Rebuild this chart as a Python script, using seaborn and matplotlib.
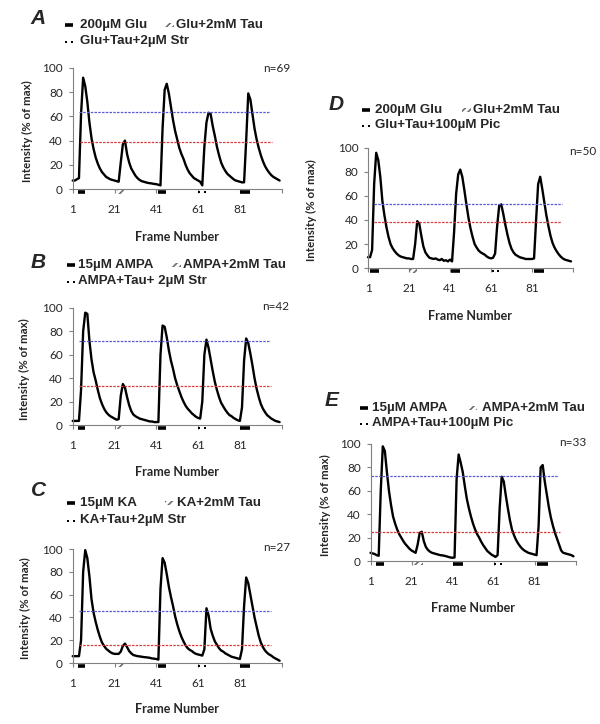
import numpy as np
import matplotlib
matplotlib.use('Agg')
import matplotlib.pyplot as plt
import seaborn as sns
from matplotlib.lines import Line2D
from matplotlib.patches import Rectangle

frames = np.arange(1, 101)

# mean intensity traces (% of max), one value per frame
trace_a = [7, 7, 8, 9, 62, 92, 85, 72, 55, 42,
           33, 26, 21, 17, 14, 12, 10, 9, 8, 7.5,
           7, 6.5, 6, 22, 37, 40, 29, 22, 17, 14,
           11, 9, 7.5, 6.5, 6, 5.5, 5, 4.8, 4.5, 4.2,
           4, 3.5, 3, 50, 82, 87, 79, 68, 57, 48,
           41, 34, 29, 25, 20, 16, 13, 11, 9, 8,
           7, 6, 3, 35, 55, 63, 62, 52, 44, 35,
           28, 22, 18, 15, 12.5, 11, 9.5, 8, 7, 6.5,
           6, 5.5, 5.5, 40, 79, 74, 62, 50, 41, 34,
           28, 23, 19, 16, 13.5, 11.5, 10, 9, 8, 7]
trace_b = [3.5, 3.5, 3.5, 3.5, 30, 80, 96, 95, 72, 56,
           45, 38, 30, 23, 18, 14, 11, 9, 7.5, 6.5,
           5.5, 4.5, 5, 25, 35, 32, 24, 17, 12, 9,
           7.5, 6.5, 5.5, 5, 4.5, 4, 3.5, 3, 3, 2.5,
           2.5, 2.5, 60, 85, 84, 75, 64, 55, 48, 40,
           34, 29, 24, 20, 16.5, 14, 12, 10, 8.5, 7,
           6, 5.5, 20, 60, 73, 66, 56, 46, 37, 30,
           24, 19, 16, 13, 10.5, 8.5, 7.5, 6, 5, 4,
           3.5, 15, 55, 74, 70, 61, 51, 40, 31, 24,
           18, 14, 11, 8.5, 7, 5.5, 4.5, 3.5, 3, 2.5]
trace_c = [6, 6, 6, 6, 20, 80, 99, 92, 76, 56,
           44, 36, 29, 23, 18, 15, 12.5, 11, 9.5, 8.5,
           8, 8, 8, 10, 15, 17, 14, 10.5, 8.5, 7,
           6.5, 6, 5.8, 5.5, 5.2, 5, 4.8, 4.5, 4, 3.8,
           3.5, 3, 65, 92, 88, 78, 67, 58, 50, 41,
           34, 28, 23, 19, 15.5, 13, 11.5, 10.5, 9, 8,
           7.5, 7, 6.5, 12, 48, 42, 30, 24, 19, 16,
           13, 11, 10, 8.5, 7.5, 6.5, 5.5, 5, 4.5, 4,
           3.5, 12, 50, 75, 70, 60, 50, 40, 32, 24,
           18, 14, 11, 9, 7.5, 6.5, 5, 4, 3, 2]
trace_d = [9, 9, 15, 70, 96, 90, 76, 56, 44, 34,
           26, 20, 16.5, 14, 12, 10.5, 9.5, 9, 8.5, 8,
           8, 7.5, 7.5, 20, 39, 37, 27, 18, 13, 10.5,
           8.5, 8, 7.5, 8, 7, 6.5, 7.5, 6, 6.5, 5.5,
           7, 5.5, 30, 62, 78, 82, 76, 65, 53, 42,
           33, 26, 20, 17, 14.5, 13, 12, 11, 9.5, 8.5,
           8, 8.5, 12, 35, 52, 53, 45, 36, 28, 21,
           16, 13, 11, 10, 9, 8.5, 8, 7.5, 7.5, 7.5,
           7.5, 8, 40, 70, 76, 66, 55, 44, 35, 27,
           21, 17, 14, 11.5, 9.5, 8, 7, 6.5, 6, 5.5]
trace_e = [7, 6.5, 6, 5, 4.5, 60, 98, 94, 76, 60,
           48, 38, 32, 27, 23, 20, 17, 14.5, 12.5, 10.5,
           9, 8, 7, 14, 24, 25, 17, 12, 9.5, 8,
           7, 6.5, 6, 5.5, 5, 4.8, 4.5, 4, 3.5, 3,
           2.8, 3, 70, 91, 84, 76, 64, 53, 45, 38,
           32, 27, 23, 20, 16.5, 13.5, 11, 8.5, 7, 5.5,
           4.5, 3.5, 5, 45, 72, 68, 56, 45, 35, 27,
           22, 18, 15, 12.5, 10.5, 9, 8, 7, 6.5, 6,
           5.5, 5, 30, 80, 82, 68, 57, 46, 37, 30,
           24, 19, 14, 9, 7, 6.5, 6, 5.5, 5, 4]

# dashed reference levels (blue, red) and the frames they span
levels_blue = [63.5, 72, 46, 53.5, 73]
levels_red = [39, 33, 15.5, 38, 24.5]
span_blue = [(4, 95.5), (4, 95.5), (4, 96), (4, 95.5), (1, 92.5)]
span_red = [(4.3, 96.5), (4, 96), (4, 96), (4, 95), (1, 93.5)]

# application windows (frames): drug, +Tau, drug, +Tau+blocker, drug
stim_kinds = ['bar', 'tau', 'bar', 'str', 'bar']
stim_abc = [(3.6, 7), (22, 25.5), (42, 45.8), (61, 64.5), (81, 85.7)]
stim_d = [(2, 6.4), (21, 25), (41.6, 46), (61.5, 64.8), (81.8, 86.7)]
stim_e = [(3.7, 7.7), (22.4, 26.4), (41.4, 46), (61.4, 65), (82, 87.4)]

letters = ['A', 'B', 'C', 'D', 'E']
n_cells = ['n=69', 'n=42', 'n=27', 'n=50', 'n=33']
legend_labels = [
    ['200µM Glu', 'Glu+2mM Tau', 'Glu+Tau+2µM Str'],
    ['15µM AMPA', 'AMPA+2mM Tau', 'AMPA+Tau+ 2µM Str'],
    ['15µM KA', 'KA+2mM Tau', 'KA+Tau+2µM Str'],
    ['200µM Glu', 'Glu+2mM Tau', 'Glu+Tau+100µM Pic'],
    ['15µM AMPA', 'AMPA+2mM Tau', 'AMPA+Tau+100µM Pic'],
]
traces = [trace_a, trace_b, trace_c, trace_d, trace_e]
stims = [stim_abc, stim_abc, stim_abc, stim_d, stim_e]

sns.set_theme(style='ticks')
plt.rcParams['font.family'] = ['Lato', 'DejaVu Sans']
plt.rcParams['hatch.linewidth'] = 1.2

W, H = 600, 724
fig = plt.figure(figsize=(6, 7.24), dpi=100)


def fx(x):
    return x / W


def fy(y):
    return 1 - y / H


# layout in pixels: axes box (left, top, right, bottom)
boxes = [(72.7, 68, 281.7, 189), (72.7, 308, 281.7, 425), (72.7, 549, 281.7, 663),
         (368, 148, 573, 268), (370.5, 444, 575.5, 561)]
ylab_x = [-0.215, -0.23, -0.225, -0.278, -0.222]
n_pos = [(0.976, 1.0), (0.973, 1.01), (0.977, 1.01), (1.05, 0.967), (0.988, 1.01)]
letter_pos = [(38, 18), (38, 262), (39, 490), (336, 105), (332, 401)]
# legend: marker x, text x, marker2 x, text2 x, row1 y, row2 y
leg_pos = [(65, 80, 165, 176, 25, 41), (67, 78, 172, 183, 265, 281),
           (67, 80, 165, 177, 503, 520), (362, 375, 462, 473, 110, 125),
           (360, 372, 468, 482, 408, 423)]

leg_font = dict(family=['Liberation Sans', 'DejaVu Sans'], fontweight='bold', fontsize=9.6)
spine_col = '#808080'
hatch_col = '#6e6e6e'


def legend_mark(kind, x, y):
    if kind == 'bar':
        fig.add_artist(Line2D([fx(x), fx(x + 8)], [fy(y), fy(y)], color='black', lw=2.6,
                              solid_capstyle='butt'))
    elif kind == 'tau':
        fig.add_artist(Rectangle((fx(x), fy(y + 2)), 9 / W, 4 / H, transform=fig.transFigure,
                                 hatch='/////', facecolor='none', edgecolor=hatch_col, lw=0))
    else:
        fig.add_artist(Line2D([fx(x + 1), fx(x + 6.5)], [fy(y + 1), fy(y + 1)], ls='none',
                              marker='s', ms=1.8, mew=0, color='black'))


for i in range(5):
    l, t, r, b = boxes[i]
    ax = fig.add_axes([fx(l), fy(b), (r - l) / W, (b - t) / H])
    sns.lineplot(x=frames, y=traces[i], ax=ax, color='black', lw=1.7, clip_on=False)
    ax.hlines(levels_blue[i], *span_blue[i], colors='#5a5ad2', lw=0.9, linestyles=(0, (2, 1)))
    ax.hlines(levels_red[i], *span_red[i], colors='#d63c3c', lw=0.9, linestyles=(0, (2, 1)))

    for kind, (s, e) in zip(stim_kinds, stims[i]):
        if kind == 'bar':
            ax.plot([s, e], [-2.2, -2.2], color='black', lw=2.6, solid_capstyle='butt', clip_on=False)
        elif kind == 'tau':
            ax.add_patch(Rectangle((s, -3.8), e - s, 3.2, hatch='/////', facecolor='none',
                                   edgecolor=hatch_col, lw=0, clip_on=False))
        else:
            ax.plot([s + 0.4, e - 0.4], [-2.2, -2.2], ls='none', marker='s', ms=1.8, mew=0,
                    color='black', clip_on=False)

    ax.set_xlim(1, 101)
    ax.set_ylim(0, 100)
    ax.set_xticks([1, 21, 41, 61, 81, 101])
    ax.set_xticklabels(['1', '21', '41', '61', '81', ''])
    ax.set_yticks([0, 20, 40, 60, 80, 100])
    ax.tick_params(axis='x', length=3, width=0.8, color=spine_col, labelsize=8.5, pad=8)
    ax.tick_params(axis='y', length=3, width=0.8, color=spine_col, labelsize=8.5, pad=4)
    for side in ['top', 'right']:
        ax.spines[side].set_visible(False)
    for side in ['left', 'bottom']:
        ax.spines[side].set_color(spine_col)
        ax.spines[side].set_linewidth(0.8)

    ax.set_xlabel('Frame Number', fontsize=9, fontweight='bold')
    ax.xaxis.set_label_coords(0.5, -0.40)
    ax.xaxis.label.set_va('center')
    ax.set_ylabel('Intensity (% of max)', fontsize=8.3, fontweight='bold')
    ax.yaxis.set_label_coords(ylab_x[i], 0.48)
    ax.yaxis.label.set_va('center')

    ax.text(n_pos[i][0], n_pos[i][1], n_cells[i], transform=ax.transAxes, fontsize=8.5,
            ha='center', va='center')

    lx, ly = letter_pos[i]
    fig.text(fx(lx), fy(ly), letters[i], fontsize=15, fontweight='bold', fontstyle='italic',
             family=['Liberation Sans', 'DejaVu Sans'], ha='center', va='center')

    mx, tx, mx2, tx2, y1, y2 = leg_pos[i]
    labs = legend_labels[i]
    legend_mark('bar', mx, y1)
    fig.text(fx(tx), fy(y1), labs[0], ha='left', va='center', **leg_font)
    legend_mark('tau', mx2, y1)
    fig.text(fx(tx2), fy(y1), labs[1], ha='left', va='center', **leg_font)
    legend_mark('str', mx, y2)
    fig.text(fx(tx), fy(y2), labs[2], ha='left', va='center', **leg_font)

fig.savefig('out.png', dpi=100, facecolor='white')
